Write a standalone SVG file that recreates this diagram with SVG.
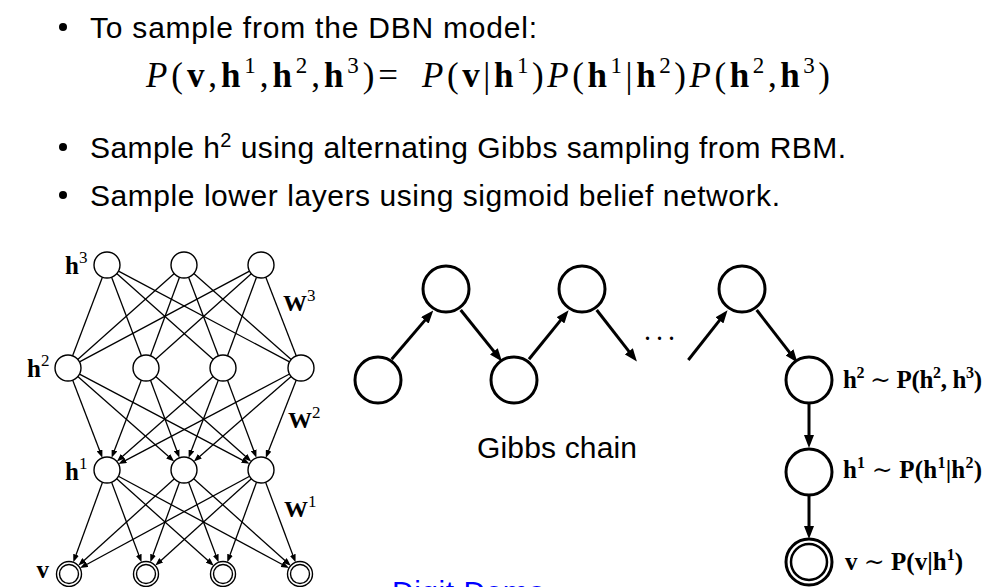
<svg xmlns="http://www.w3.org/2000/svg" width="1000" height="587" viewBox="0 0 1000 587">
<style>
.txt{font-family:"Liberation Sans",Arial,sans-serif;font-size:30px;fill:#000}
.math{font-family:"Liberation Serif","DejaVu Serif",serif;fill:#000}
.b{font-weight:bold}
.i{font-style:italic}
.n{font-weight:normal}
.thin{stroke:#000;stroke-width:1.3;fill:none}
.thick{stroke:#000;stroke-width:3;fill:none}
.ns{fill:#fff;stroke:#000;stroke-width:1.4}
.nl{fill:#fff;stroke:#000;stroke-width:3}
</style>
<defs>
<marker id="as" markerUnits="userSpaceOnUse" markerWidth="8" markerHeight="6" refX="1" refY="3" orient="auto">
<path d="M0,0 L8,3 L0,6 z" fill="#000"/>
</marker>
<marker id="al" markerUnits="userSpaceOnUse" markerWidth="13" markerHeight="10" refX="1" refY="5" orient="auto">
<path d="M0,0 L13,5 L0,10 z" fill="#000"/>
</marker>
</defs>
<rect width="1000" height="587" fill="#fff"/>

<g id="bullets">
<circle cx="63" cy="27" r="4" fill="#000"/>
<text class="txt" x="90" y="38" textLength="447">To sample from the DBN model:</text>
<circle cx="63" cy="147" r="4" fill="#000"/>
<text class="txt" x="90" y="158" textLength="756">Sample h<tspan font-size="20" dy="-11">2</tspan><tspan dy="11"> using alternating Gibbs sampling from RBM.</tspan></text>
<circle cx="63" cy="195" r="4" fill="#000"/>
<text class="txt" x="90" y="206" textLength="690">Sample lower layers using sigmoid belief network.</text>
</g>

<g id="formula" font-size="35">
<text class="math" x="146" y="87" textLength="252"><tspan class="i">P</tspan>(<tspan class="b">v</tspan>,<tspan class="b">h</tspan><tspan font-size="23" dy="-14">1</tspan><tspan dy="14">,</tspan><tspan class="b">h</tspan><tspan font-size="23" dy="-14">2</tspan><tspan dy="14">,</tspan><tspan class="b">h</tspan><tspan font-size="23" dy="-14">3</tspan><tspan dy="14">)=</tspan></text>
<text class="math" x="422" y="87" textLength="408"><tspan class="i">P</tspan>(<tspan class="b">v</tspan>|<tspan class="b">h</tspan><tspan font-size="23" dy="-14">1</tspan><tspan dy="14">)</tspan><tspan class="i">P</tspan>(<tspan class="b">h</tspan><tspan font-size="23" dy="-14">1</tspan><tspan dy="14">|</tspan><tspan class="b">h</tspan><tspan font-size="23" dy="-14">2</tspan><tspan dy="14">)</tspan><tspan class="i">P</tspan>(<tspan class="b">h</tspan><tspan font-size="23" dy="-14">2</tspan><tspan dy="14">,</tspan><tspan class="b">h</tspan><tspan font-size="23" dy="-14">3</tspan><tspan dy="14">)</tspan></text>
</g>

<g id="connectors">
<g class="thin">
<line x1="102.4" y1="277.2" x2="72.6" y2="355.8"/>
<line x1="111.6" y1="277.2" x2="141.4" y2="355.8"/>
<line x1="116.7" y1="273.6" x2="213.3" y2="359.4"/>
<line x1="118.5" y1="271.1" x2="289.5" y2="361.9"/>
<line x1="174.3" y1="273.6" x2="77.7" y2="359.4"/>
<line x1="179.5" y1="277.2" x2="150.5" y2="355.8"/>
<line x1="188.6" y1="277.2" x2="218.4" y2="355.8"/>
<line x1="193.8" y1="273.6" x2="291.2" y2="359.4"/>
<line x1="249.5" y1="271.1" x2="79.5" y2="361.9"/>
<line x1="251.3" y1="273.7" x2="155.7" y2="359.3"/>
<line x1="256.5" y1="277.2" x2="227.5" y2="355.8"/>
<line x1="265.7" y1="277.1" x2="296.3" y2="355.9"/>
</g>
<g class="thin" marker-end="url(#as)">
<line x1="72.6" y1="380.1" x2="99.9" y2="451.3"/>
<line x1="77.8" y1="376.6" x2="168.9" y2="456.8"/>
<line x1="79.5" y1="374.1" x2="243.3" y2="460.6"/>
<line x1="141.4" y1="380.1" x2="114.1" y2="451.3"/>
<line x1="150.5" y1="380.2" x2="177.0" y2="451.2"/>
<line x1="155.7" y1="376.6" x2="246.0" y2="456.8"/>
<line x1="213.2" y1="376.6" x2="122.1" y2="456.8"/>
<line x1="218.4" y1="380.1" x2="191.1" y2="451.3"/>
<line x1="227.5" y1="380.2" x2="254.0" y2="451.2"/>
<line x1="289.5" y1="374.0" x2="124.7" y2="460.8"/>
<line x1="291.2" y1="376.5" x2="199.1" y2="456.9"/>
<line x1="296.3" y1="380.1" x2="268.3" y2="451.4"/>
<line x1="102.5" y1="482.2" x2="75.7" y2="555.7"/>
<line x1="111.6" y1="482.2" x2="139.1" y2="555.8"/>
<line x1="116.7" y1="478.7" x2="208.5" y2="561.0"/>
<line x1="118.4" y1="476.2" x2="282.8" y2="564.8"/>
<line x1="174.4" y1="478.7" x2="83.5" y2="560.9"/>
<line x1="179.5" y1="482.2" x2="152.7" y2="555.7"/>
<line x1="188.6" y1="482.2" x2="216.1" y2="555.8"/>
<line x1="193.7" y1="478.7" x2="285.5" y2="561.0"/>
<line x1="249.6" y1="476.2" x2="86.2" y2="564.7"/>
<line x1="251.4" y1="478.7" x2="160.5" y2="560.9"/>
<line x1="256.5" y1="482.2" x2="229.7" y2="555.7"/>
<line x1="265.6" y1="482.2" x2="293.1" y2="555.8"/>
</g>
<g class="thick" marker-end="url(#al)">
<line x1="391.7" y1="359.3" x2="425.5" y2="319.6"/>
<line x1="460.7" y1="310" x2="494.5" y2="352.1"/>
<line x1="529" y1="359.3" x2="561.1" y2="319.6"/>
<line x1="596.7" y1="310" x2="629.5" y2="352.1"/>
<line x1="688.3" y1="360" x2="720.1" y2="319.6"/>
<line x1="756.7" y1="310" x2="790.1" y2="353.1"/>
<line x1="809" y1="403" x2="809" y2="436"/>
<line x1="809" y1="495" x2="809" y2="527"/>
</g>
</g>

<g id="dbn-h3">
<circle class="ns" cx="107" cy="265" r="13"/>
<circle class="ns" cx="184" cy="265" r="13"/>
<circle class="ns" cx="261" cy="265" r="13"/>
<text class="math b" x="65" y="274" font-size="25">h<tspan class="n" font-size="17" dy="-11">3</tspan></text>
</g>
<g id="dbn-h2">
<circle class="ns" cx="68" cy="368" r="13"/>
<circle class="ns" cx="146" cy="368" r="13"/>
<circle class="ns" cx="223" cy="368" r="13"/>
<circle class="ns" cx="301" cy="368" r="13"/>
<text class="math b" x="27" y="377" font-size="25">h<tspan class="n" font-size="17" dy="-11">2</tspan></text>
</g>
<g id="dbn-h1">
<circle class="ns" cx="107" cy="470" r="13"/>
<circle class="ns" cx="184" cy="470" r="13"/>
<circle class="ns" cx="261" cy="470" r="13"/>
<text class="math b" x="65" y="480" font-size="25">h<tspan class="n" font-size="17" dy="-11">1</tspan></text>
</g>
<g id="dbn-v">
<circle class="ns" cx="69" cy="574" r="12.5"/><circle class="ns" cx="69" cy="574" r="9.5"/>
<circle class="ns" cx="146" cy="574" r="12.5"/><circle class="ns" cx="146" cy="574" r="9.5"/>
<circle class="ns" cx="223" cy="574" r="12.5"/><circle class="ns" cx="223" cy="574" r="9.5"/>
<circle class="ns" cx="300" cy="574" r="12.5"/><circle class="ns" cx="300" cy="574" r="9.5"/>
<text class="math b" x="49" y="578" font-size="25" text-anchor="end">v</text>
</g>
<g id="weights">
<text class="math b" x="283" y="311" font-size="24">W<tspan class="n" font-size="17" dy="-10">3</tspan></text>
<text class="math b" x="288" y="428" font-size="24">W<tspan class="n" font-size="17" dy="-10">2</tspan></text>
<text class="math b" x="284" y="517" font-size="24">W<tspan class="n" font-size="17" dy="-10">1</tspan></text>
</g>

<g id="gibbs-nodes">
<circle class="nl" cx="378" cy="380" r="23"/>
<circle class="nl" cx="446" cy="289" r="23"/>
<circle class="nl" cx="514" cy="380" r="23"/>
<circle class="nl" cx="582" cy="289" r="23"/>
<circle class="nl" cx="742" cy="289" r="23"/>
<text class="math b" font-size="20" y="340"><tspan x="645">.</tspan><tspan x="657">.</tspan><tspan x="669">.</tspan></text>
<text class="txt" x="477" y="458" textLength="160">Gibbs chain</text>
</g>
<g id="sample-h2">
<circle class="nl" cx="809" cy="380" r="23"/>
<text class="math b" x="843" y="388" font-size="25" textLength="139">h<tspan font-size="16" dy="-10">2</tspan><tspan class="n" dy="10"> ∼ </tspan>P(h<tspan font-size="16" dy="-10">2</tspan><tspan dy="10">, h</tspan><tspan font-size="16" dy="-10">3</tspan><tspan dy="10">)</tspan></text>
</g>
<g id="sample-h1">
<circle class="nl" cx="809" cy="472" r="23"/>
<text class="math b" x="843" y="478" font-size="25" textLength="139">h<tspan font-size="16" dy="-10">1</tspan><tspan class="n" dy="10"> ∼ </tspan>P(h<tspan font-size="16" dy="-10">1</tspan><tspan dy="10">|h</tspan><tspan font-size="16" dy="-10">2</tspan><tspan dy="10">)</tspan></text>
</g>
<g id="sample-v">
<circle class="nl" cx="809" cy="562" r="23"/>
<circle fill="none" stroke="#000" stroke-width="2.5" cx="809" cy="562" r="18"/>
<text class="math b" x="845" y="570" font-size="25" textLength="118">v<tspan class="n"> ∼ </tspan>P(v|h<tspan font-size="16" dy="-10">1</tspan><tspan dy="10">)</tspan></text>
</g>

<g id="digit-demo">
<text class="txt" x="392" y="602" textLength="153" style="fill:#0000ff">Digit Demo</text>
</g>
</svg>
